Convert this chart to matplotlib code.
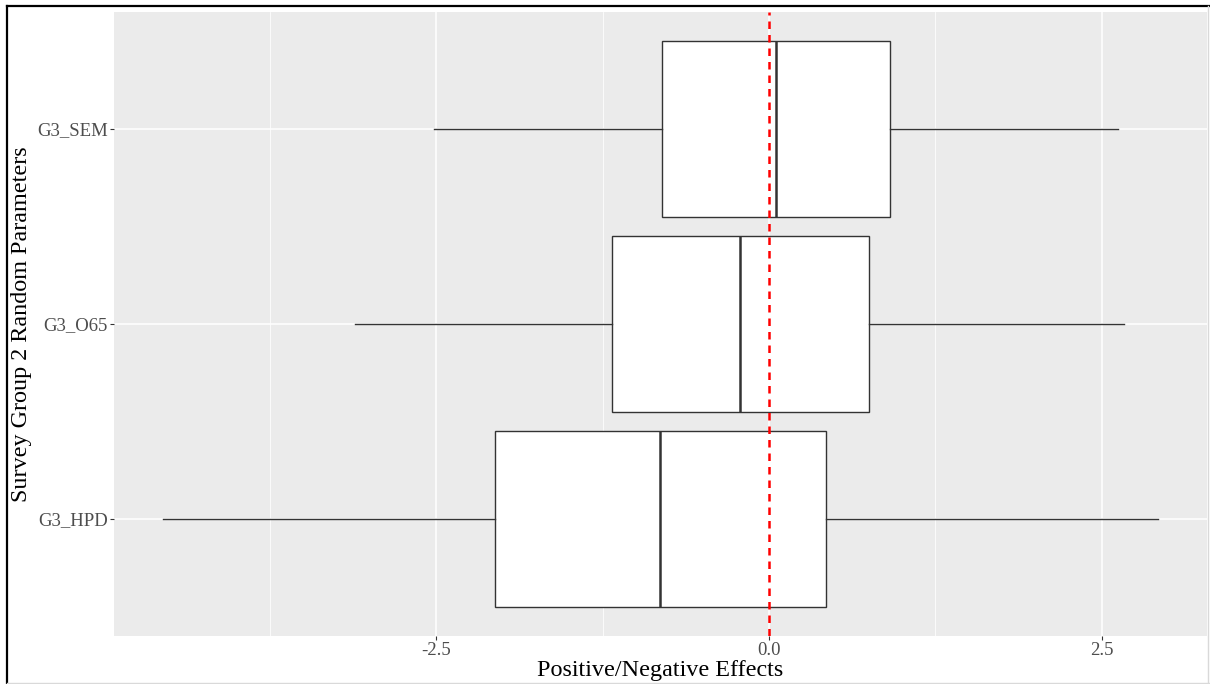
import matplotlib
matplotlib.use("Agg")
import matplotlib.pyplot as plt
from matplotlib.lines import Line2D
from matplotlib.ticker import FixedLocator

# Parameters, listed bottom-to-top as they appear on the y axis
params = ["G3_HPD", "G3_O65", "G3_SEM"]
whisker_low = [-4.55, -3.11, -2.52]
q1 = [-2.06, -1.18, -0.80]
median = [-0.82, -0.22, 0.05]
q3 = [0.43, 0.75, 0.91]
whisker_high = [2.92, 2.67, 2.62]

x_major = [-2.5, 0.0, 2.5]
x_major_labels = ["-2.5", "0.0", "2.5"]
x_minor = [-3.75, -1.25, 1.25]

plt.rcParams["font.family"] = ["Liberation Serif", "DejaVu Serif"]

W, H = 1210, 684
fig = plt.figure(figsize=(W / 100, H / 100), dpi=100)
fig.patch.set_facecolor("white")

ax = fig.add_axes([114 / W, 1 - 636 / H, (1207 - 114) / W, (636 - 12) / H])
ax.set_facecolor("#EBEBEB")

stats = []
for i, name in enumerate(params):
    stats.append(dict(label=name, whislo=whisker_low[i], q1=q1[i], med=median[i],
                      q3=q3[i], whishi=whisker_high[i], fliers=[]))

ax.bxp(stats, positions=[1, 2, 3], widths=0.9, orientation="horizontal",
       showcaps=False, showfliers=False, patch_artist=True,
       boxprops=dict(facecolor="white", edgecolor="#333333", linewidth=1.0),
       whiskerprops=dict(color="#333333", linewidth=1.0),
       medianprops=dict(color="#333333", linewidth=1.8),
       zorder=3)

# Reference line at zero
zl = ax.axvline(0, color="#FF0000", linewidth=1.8, zorder=4)
zl.set_dashes([3.0, 2.4])

ax.set_xlim(-4.92, 3.29)
ax.set_ylim(0.4, 3.6)

ax.xaxis.set_major_locator(FixedLocator(x_major))
ax.set_xticklabels(x_major_labels)
ax.xaxis.set_minor_locator(FixedLocator(x_minor))
ax.set_yticks([1, 2, 3])
ax.set_yticklabels(params)

ax.grid(which="major", color="white", linewidth=1.1, zorder=0)
ax.grid(which="minor", axis="x", color="white", linewidth=0.55, zorder=0)
ax.set_axisbelow(True)

for s in ax.spines.values():
    s.set_visible(False)

ax.tick_params(axis="both", which="major", length=2.75, width=0.8, color="#333333",
               labelcolor="#4D4D4D", labelsize=13.5, pad=1.5)
ax.tick_params(axis="x", which="minor", length=0)

ax.set_xlabel("Positive/Negative Effects", fontsize=17.4, color="black", labelpad=1)
ax.set_ylabel("Survey Group 2 Random Parameters", fontsize=17.4, color="black", labelpad=4)

# Outer frame around the whole figure
fig.add_artist(Line2D([7 / W, 7 / W], [0, 1 - 6 / H], transform=fig.transFigure,
                      color="black", linewidth=1.6))
fig.add_artist(Line2D([7 / W, 1], [1 - 6 / H, 1 - 6 / H], transform=fig.transFigure,
                      color="black", linewidth=1.6))
fig.add_artist(Line2D([7 / W, 1], [1.5 / H, 1.5 / H], transform=fig.transFigure,
                      color="#D9D9D9", linewidth=1.0))
fig.add_artist(Line2D([1 - 2 / W, 1 - 2 / W], [0, 1 - 6 / H], transform=fig.transFigure,
                      color="#D9D9D9", linewidth=1.0))

fig.savefig("out.png", dpi=100, facecolor="white")
